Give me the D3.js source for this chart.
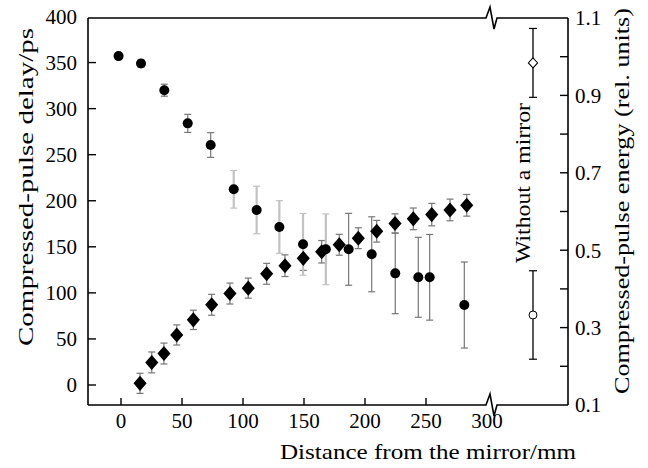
<!DOCTYPE html>
<html>
<head>
<meta charset="utf-8">
<script src="https://cdn.jsdelivr.net/npm/d3@7"></script>
<style>
  body { margin: 0; background: #fff; }
</style>
</head>
<body>
<div id="chart"></div>
<script>
// Delay (filled circles, left axis)
const delayDist = [-2, 16.4, 35.5, 54.7, 73.5, 92.4, 111.2, 129.8, 149.2, 167.9, 186.6, 205.5, 224.8, 243.7, 253, 281.4];
const delayVal = [357, 349, 320, 284, 260.5, 212.4, 190, 171.5, 152.7, 147.3, 147.3, 141.9, 121.2, 116.9, 116.9, 86.8];
const delayErr = [3, 4, 6.5, 9.8, 13.4, 20.4, 25.8, 28.6, 33.5, 38.4, 39, 40.7, 43.8, 43.4, 46.5, 46.7];

// Energy (filled diamonds, right axis)
const energyDist = [15.6, 25.2, 35.2, 45.7, 59.3, 74.3, 89.3, 104.3, 119.4, 134.4, 149.4, 164.5, 178.9, 194.5, 209.6, 224.6, 239.6, 254.7, 269.7, 283.4];
const energyVal = [0.156, 0.210, 0.233, 0.281, 0.320, 0.359, 0.388, 0.402, 0.439, 0.460, 0.479, 0.496, 0.514, 0.531, 0.549, 0.569, 0.581, 0.592, 0.604, 0.616];
const energyErr = [0.026, 0.027, 0.027, 0.026, 0.025, 0.027, 0.027, 0.026, 0.027, 0.028, 0.031, 0.029, 0.027, 0.027, 0.028, 0.025, 0.028, 0.029, 0.028, 0.028];

// Without a mirror (open markers)
const noMirrorDelay = 76, noMirrorDelayErr = 48;
const noMirrorEnergy = 0.984, noMirrorEnergyErr = 0.089;

const xTicks = [0, 50, 100, 150, 200, 250, 300];
const leftTicks = [0, 50, 100, 150, 200, 250, 300, 350, 400];
const rightTicks = [0.1, 0.2, 0.3, 0.4, 0.5, 0.6, 0.7, 0.8, 0.9, 1.0, 1.1];
const rightLabels = [0.1, 0.3, 0.5, 0.7, 0.9, 1.1];

const width = 648, height = 468;
const mLeft = 88, mRight = 568, mTop = 18, mBottom = 405;
const breakX = 486;
const serif = "'Liberation Serif', 'DejaVu Serif', Tinos, 'Nimbus Roman', 'Noto Serif', FreeSerif, 'Times New Roman', Times, serif";

const svg = d3.select("#chart").append("svg")
  .attr("width", width).attr("height", height)
  .style("font-family", serif);

const x = d3.scaleLinear().domain([0, 300]).range([121, 487]);
const yL = d3.scaleLinear().domain([0, 400]).range([385, 16.5]);
const yR = d3.scaleLinear().domain([0.1, 1.1]).range([mBottom, mTop]);
const xNo = d3.scalePoint().domain(["none"]).range([500, 566]);

// frame with axis breaks
const frame = svg.append("g").attr("fill", "none").attr("stroke", "#000").attr("stroke-width", 1.6);
function brokenLine(y0) {
  const z = d3.path();
  z.moveTo(mLeft, y0);
  z.lineTo(breakX, y0);
  z.lineTo(breakX + 4, y0 - 11);
  z.lineTo(breakX + 8, y0 + 11);
  z.lineTo(breakX + 11, y0);
  z.lineTo(mRight, y0);
  return z.toString();
}
frame.append("path").attr("d", brokenLine(mTop));
frame.append("path").attr("d", brokenLine(mBottom));
frame.append("line").attr("x1", mLeft).attr("x2", mLeft).attr("y1", mTop).attr("y2", mBottom);
frame.append("line").attr("x1", mRight).attr("x2", mRight).attr("y1", mTop).attr("y2", mBottom);

// ticks
const tk = svg.append("g").attr("stroke", "#000").attr("stroke-width", 1.4);
tk.selectAll(".xt").data(xTicks.slice(0, -1)).enter().append("line")
  .attr("x1", d => x(d)).attr("x2", d => x(d))
  .attr("y1", mBottom).attr("y2", mBottom - 7);
tk.selectAll(".lt").data(leftTicks.slice(0, -1)).enter().append("line")
  .attr("x1", mLeft).attr("x2", mLeft + 8)
  .attr("y1", d => yL(d)).attr("y2", d => yL(d));
tk.selectAll(".rt").data(rightTicks.slice(1, -1)).enter().append("line")
  .attr("x1", mRight).attr("x2", mRight - 8)
  .attr("y1", d => yR(d)).attr("y2", d => yR(d));

const fs = 21;
svg.selectAll(".xl").data(xTicks).enter().append("text")
  .attr("x", d => x(d)).attr("y", 428)
  .attr("text-anchor", "middle").attr("font-size", fs)
  .text(d => d);
svg.selectAll(".yl").data(leftTicks).enter().append("text")
  .attr("x", 77).attr("y", d => yL(d)).attr("dy", "0.35em")
  .attr("text-anchor", "end").attr("font-size", fs)
  .text(d => d);
svg.selectAll(".yr").data(rightLabels).enter().append("text")
  .attr("x", 575).attr("y", d => yR(d)).attr("dy", "0.35em")
  .attr("text-anchor", "start").attr("font-size", fs)
  .text(d => d.toFixed(1));

// axis titles (stretched to the width they take in the original)
function title(tx, ty, rot, len, str) {
  svg.append("text")
    .attr("transform", `translate(${tx},${ty}) rotate(${rot})`)
    .attr("x", -len / 2).attr("font-size", 21)
    .attr("textLength", len).attr("lengthAdjust", "spacingAndGlyphs")
    .text(str);
}
title(33, 187, -90, 318, "Compressed-pulse delay/ps");
title(629, 201, -90, 386, "Compressed-pulse energy (rel. units)");
title(530, 183, -90, 160, "Without a mirror");
title(428, 459, 0, 296, "Distance from the mirror/mm");

// error bars
function errBar(g, cx, y1, y2, color, w, cap) {
  g.append("line").attr("x1", cx).attr("x2", cx).attr("y1", y1).attr("y2", y2)
    .attr("stroke", color).attr("stroke-width", w);
  [y1, y2].forEach(yy => g.append("line")
    .attr("x1", cx - cap).attr("x2", cx + cap).attr("y1", yy).attr("y2", yy)
    .attr("stroke", color).attr("stroke-width", 1.2));
}
const eb = svg.append("g");
energyDist.forEach((d, i) => {
  errBar(eb, x(d), yR(energyVal[i] + energyErr[i]), yR(energyVal[i] - energyErr[i]), "#777", 1.2, 3.5);
});
delayDist.forEach((d, i) => {
  const light = i >= 5 && i <= 9;
  errBar(eb, x(d), yL(delayVal[i] + delayErr[i]), yL(delayVal[i] - delayErr[i]),
    light ? "#c2c2c2" : "#777", light ? 2.2 : 1.2, 3.5);
});
errBar(eb, xNo("none"), yR(noMirrorEnergy + noMirrorEnergyErr), yR(noMirrorEnergy - noMirrorEnergyErr), "#000", 1.3, 4);
errBar(eb, xNo("none"), yL(noMirrorDelay + noMirrorDelayErr), yL(noMirrorDelay - noMirrorDelayErr), "#000", 1.3, 4);

// markers
const diamond = d3.symbol().type(d3.symbolDiamond2).size(110);
svg.append("g").selectAll("path").data(energyDist).enter().append("path")
  .attr("d", diamond)
  .attr("transform", (d, i) => `translate(${x(d)},${yR(energyVal[i])}) scale(1,1.15)`)
  .attr("fill", "#000");
svg.append("g").selectAll("circle").data(delayDist).enter().append("circle")
  .attr("cx", d => x(d)).attr("cy", (d, i) => yL(delayVal[i]))
  .attr("r", 5).attr("fill", "#000");

svg.append("path").attr("d", d3.symbol().type(d3.symbolDiamond2).size(55))
  .attr("transform", `translate(${xNo("none")},${yR(noMirrorEnergy)}) scale(1,1.1)`)
  .attr("fill", "#fff").attr("stroke", "#000").attr("stroke-width", 1);
svg.append("circle").attr("cx", xNo("none")).attr("cy", yL(noMirrorDelay))
  .attr("r", 4).attr("fill", "#fff").attr("stroke", "#000").attr("stroke-width", 1);
</script>
</body>
</html>
